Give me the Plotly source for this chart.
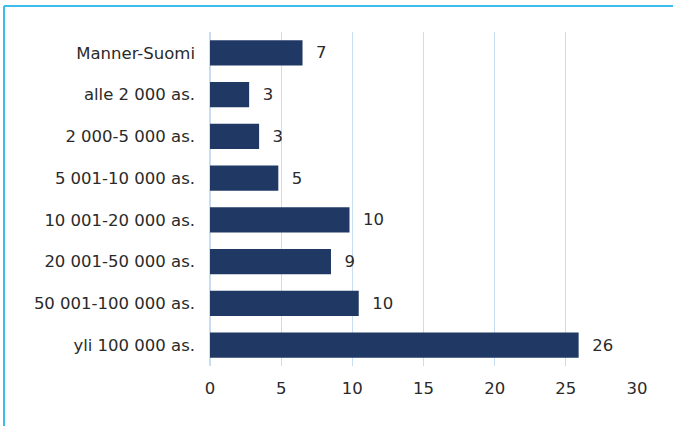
import plotly.graph_objects as go

categories = ["Manner-Suomi", "alle 2 000 as.", "2 000-5 000 as.", "5 001-10 000 as.",
              "10 001-20 000 as.", "20 001-50 000 as.", "50 001-100 000 as.", "yli 100 000 as."]
values = [6.5, 2.75, 3.45, 4.8, 9.8, 8.5, 10.45, 25.9]
x_ticks = [0, 5, 10, 15, 20, 25, 30]

W, H = 673, 426
L, R, T, B = 210, 36, 32, 60
pw, ph = W - L - R, H - T - B

fig = go.Figure(go.Bar(
    y=categories, x=values, orientation="h",
    marker=dict(color="#203864", line=dict(width=0)),
    texttemplate="\u00a0\u00a0%{x:.0f}", textposition="outside",
    textfont=dict(family="DejaVu Sans", size=16.5, color="#2a2a2a"),
    cliponaxis=False,
))

bx = (4 - L) / pw
by = (H - B - 6) / ph
fig.add_shape(type="line", xref="paper", yref="paper", x0=bx, x1=(W - L) / pw + 0.1, y0=by, y1=by,
              line=dict(color="#3DBDEB", width=2))
fig.add_shape(type="line", xref="paper", yref="paper", x0=bx, x1=bx, y0=by, y1=-B / ph - 0.1,
              line=dict(color="#3DBDEB", width=2))

fig.update_layout(
    width=W, height=H,
    margin=dict(l=L, r=R, t=T, b=B, autoexpand=False),
    paper_bgcolor="white", plot_bgcolor="white",
    bargap=0.4, showlegend=False,
    font=dict(family="DejaVu Sans", size=16.5, color="#2a2a2a"),
)
fig.update_xaxes(range=[0, 30], tickvals=x_ticks, showgrid=True, gridcolor="#C9DDF0", gridwidth=1,
                 zeroline=True, zerolinecolor="#C9DDF0", zerolinewidth=2, showline=False,
                 ticks="", ticklabelstandoff=10, fixedrange=True, automargin=False)
fig.update_yaxes(categoryorder="array", categoryarray=categories[::-1], showgrid=False,
                 showline=False, ticks="", ticklabelstandoff=14, fixedrange=True, automargin=False)

fig.write_html("out.html", config={"displayModeBar": False},
               post_script="document.body.style.margin='0';document.body.style.overflow='hidden';")
